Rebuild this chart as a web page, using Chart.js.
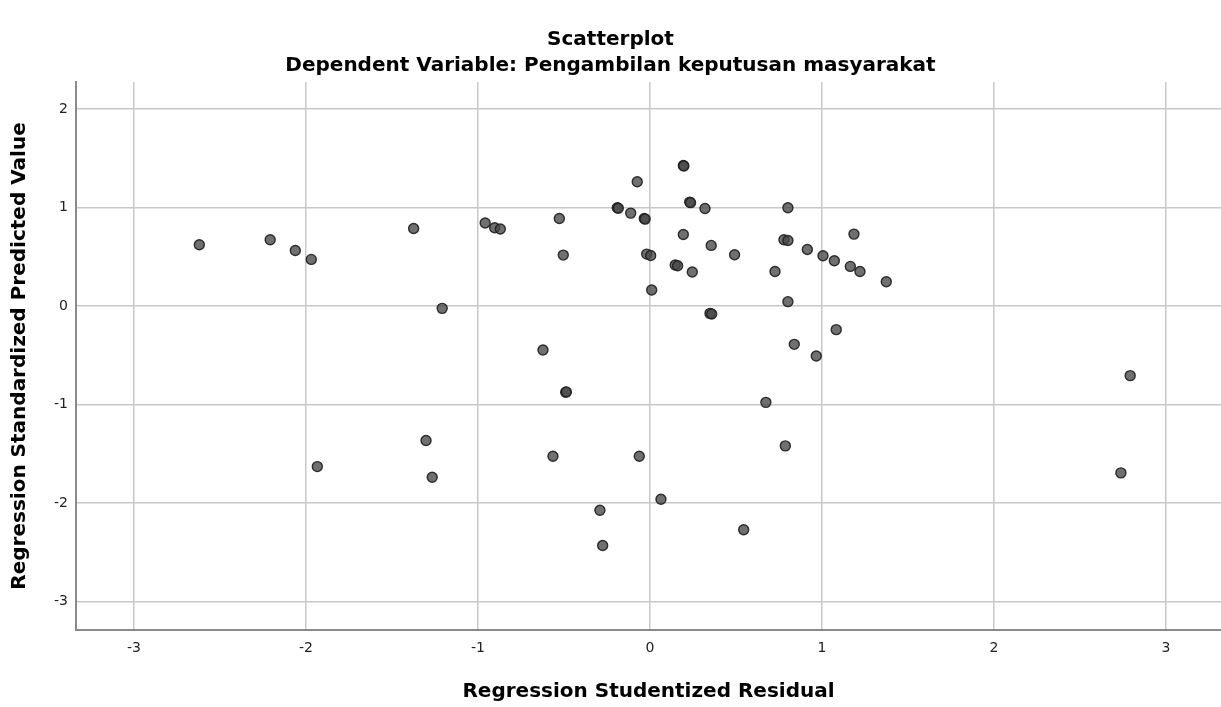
<!DOCTYPE html>
<html>
<head>
<meta charset="utf-8">
<title>Scatterplot</title>
<script src="https://cdn.jsdelivr.net/npm/chart.js@4.4.0/dist/chart.umd.min.js"></script>
<style>
  html, body { margin: 0; padding: 0; background: #ffffff; }
  #chart { display: block; }
</style>
</head>
<body>
<canvas id="chart" width="1221" height="707"></canvas>
<script>
// Regression Studentized Residual (x) vs Regression Standardized Predicted Value (y)
const studentizedResidual = [
  -2.620, -2.208, -2.062, -1.969, -1.374, -1.208, -0.958, -0.903, -0.870, -0.527,
  -0.504, -0.622, -0.490, -0.486, -1.302, -1.934, -1.266, -0.564, -0.062, -0.291,
  -0.275, 0.064, 0.545, -0.074, -0.190, -0.184, -0.112, -0.033, -0.028, -0.019,
  0.004, 0.010, 0.194, 0.197, 0.231, 0.236, 0.320, 0.194, 0.356, 0.147,
  0.161, 0.246, 0.492, 0.349, 0.359, 0.802, 0.779, 0.802, 0.915, 0.727,
  0.802, 1.006, 1.072, 1.186, 1.165, 1.221, 1.374, 1.083, 0.839, 0.967,
  0.674, 0.787, 2.792, 2.738,
];
const standardizedPredicted = [
  0.624, 0.674, 0.566, 0.475, 0.789, -0.022, 0.844, 0.796, 0.783, 0.890,
  0.519, -0.444, -0.874, -0.870, -1.364, -1.628, -1.736, -1.523, -1.523, -2.071,
  -2.429, -1.959, -2.270, 1.263, 0.999, 0.994, 0.945, 0.890, 0.884, 0.529,
  0.515, 0.164, 1.428, 1.424, 1.057, 1.051, 0.992, 0.728, 0.617, 0.418,
  0.411, 0.347, 0.522, -0.073, -0.079, 0.999, 0.674, 0.667, 0.576, 0.353,
  0.046, 0.512, 0.461, 0.732, 0.404, 0.353, 0.248, -0.238, -0.387, -0.505,
  -0.976, -1.418, -0.705, -1.692,
];
const xTickValues = [-3, -2, -1, 0, 1, 2, 3];
const yTickValues = [-3, -2, -1, 0, 1, 2];

const titleFont = { family: "'DejaVu Sans', sans-serif", size: 20, weight: "bold" };
const tickFont = { family: "'DejaVu Sans', sans-serif", size: 14 };
const gridColor = "#c8c8c8";
const axisColor = "#8a8a8a";

const points = studentizedResidual.map((x, i) => ({ x, y: standardizedPredicted[i] }));

new Chart(document.getElementById("chart"), {
  type: "scatter",
  data: {
    datasets: [
      {
        data: points,
        pointRadius: 5,
        pointHoverRadius: 5,
        pointBorderWidth: 1.4,
        backgroundColor: "rgba(72, 72, 72, 0.78)",
        borderColor: "rgba(30, 30, 30, 0.9)",
      },
    ],
  },
  options: {
    responsive: false,
    animation: false,
    devicePixelRatio: 1,
    layout: { padding: 0, autoPadding: false },
    plugins: {
      legend: { display: false },
      tooltip: { enabled: false },
      title: {
        display: true,
        text: "Scatterplot",
        color: "#000000",
        font: titleFont,
        padding: { top: 28, bottom: 2 },
      },
      subtitle: {
        display: true,
        text: "Dependent Variable: Pengambilan keputusan masyarakat",
        color: "#000000",
        font: titleFont,
        padding: { top: 0, bottom: 4 },
      },
    },
    scales: {
      x: {
        type: "linear",
        min: -3.337,
        max: 3.32,
        afterBuildTicks: (scale) => {
          scale.ticks = xTickValues.map((value) => ({ value }));
        },
        afterFit: (scale) => {
          scale.height = 77;
          scale.paddingLeft = 0;
          scale.paddingRight = 0;
        },
        grid: { color: gridColor, lineWidth: 1.5, drawTicks: false },
        border: { color: axisColor, width: 2 },
        ticks: { color: "#222222", font: tickFont, padding: 10, maxRotation: 0 },
        title: {
          display: true,
          text: "Regression Studentized Residual",
          color: "#000000",
          font: titleFont,
          padding: { top: 0, bottom: 3 },
        },
      },
      y: {
        type: "linear",
        min: -3.287,
        max: 2.276,
        afterBuildTicks: (scale) => {
          scale.ticks = yTickValues.map((value) => ({ value }));
        },
        afterFit: (scale) => {
          scale.width = 76;
          scale.paddingTop = 0;
          scale.paddingBottom = 0;
        },
        grid: { color: gridColor, lineWidth: 1.5, drawTicks: false },
        border: { color: axisColor, width: 2 },
        ticks: { color: "#222222", font: tickFont, padding: 8 },
        title: {
          display: true,
          text: "Regression Standardized Predicted Value",
          color: "#000000",
          font: titleFont,
          padding: { top: 8, bottom: 0 },
        },
      },
    },
  },
});
</script>
</body>
</html>
